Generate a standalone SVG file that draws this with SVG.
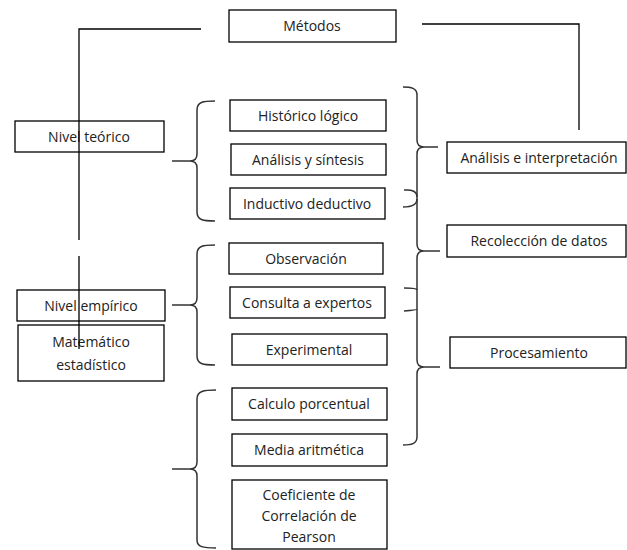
<svg xmlns="http://www.w3.org/2000/svg" width="627" height="550" viewBox="0 0 627 550">
<style>
.box{fill:#fff;stroke:#000;stroke-width:1.3}
.t{font-family:"Open Sans","Liberation Sans",sans-serif;font-size:14px;fill:#222;text-anchor:middle}
.ln{fill:none;stroke:#000;stroke-width:1.3}
.br{fill:none;stroke:#333;stroke-width:1.5}
</style>
<rect width="627" height="550" fill="#fff"/>
<g id="n-metodos"><rect class="box" x="229" y="10" width="167" height="32"/><text class="t" x="312" y="31">Métodos</text></g>
<g id="n-nivel-teorico"><rect class="box" x="15" y="121" width="149" height="31"/><text class="t" x="89" y="141.5">Nivel teórico</text></g>
<g id="n-historico"><rect class="box" x="230" y="100" width="156" height="31"/><text class="t" x="308" y="120.5">Histórico lógico</text></g>
<g id="n-analisis-sintesis"><rect class="box" x="231" y="144" width="155" height="31"/><text class="t" x="308" y="164.5">Análisis y síntesis</text></g>
<g id="n-inductivo"><rect class="box" x="230" y="188" width="155" height="31"/><text class="t" x="307" y="208.5">Inductivo deductivo</text></g>
<g id="n-observacion"><rect class="box" x="229" y="243" width="154" height="31"/><text class="t" x="306" y="263.5">Observación</text></g>
<g id="n-consulta"><rect class="box" x="230" y="287" width="155" height="31"/><text class="t" x="307" y="307.5">Consulta a expertos</text></g>
<g id="n-experimental"><rect class="box" x="232" y="334" width="155" height="31"/><text class="t" x="309" y="354.5">Experimental</text></g>
<g id="n-calculo"><rect class="box" x="232" y="388" width="155" height="32"/><text class="t" x="309" y="409">Calculo porcentual</text></g>
<g id="n-media"><rect class="box" x="232" y="434" width="155" height="32"/><text class="t" x="309" y="455">Media aritmética</text></g>
<g id="n-coeficiente"><rect class="box" x="232" y="480" width="155" height="69"/><text class="t" x="309" y="500">Coeficiente de</text><text class="t" x="309" y="521">Correlación de</text><text class="t" x="309" y="542">Pearson</text></g>
<g id="n-nivel-empirico"><rect class="box" x="17" y="290" width="148" height="31"/><text class="t" x="91" y="310.5">Nivel empírico</text></g>
<g id="n-matematico"><rect class="box" x="18" y="325" width="146" height="56"/><text class="t" x="91" y="347">Matemático</text><text class="t" x="91" y="370">estadístico</text></g>
<g id="n-analisis-interp"><rect class="box" x="447" y="142" width="179" height="31"/><text class="t" x="539" y="162.5">Análisis e interpretación</text></g>
<g id="n-recoleccion"><rect class="box" x="447" y="225" width="179" height="32"/><text class="t" x="539" y="246">Recolección de datos</text></g>
<g id="n-procesamiento"><rect class="box" x="450" y="337" width="176" height="31"/><text class="t" x="539" y="357.5">Procesamiento</text></g>
<g id="connectors">
<path class="ln" d="M201,29 H79 V240 M79,256 V349"/>
<path class="ln" d="M422,24 H579 V130"/>
<path class="br" d="M215,101 C203,101 197,102 197,110 V154 Q197,161 190,161 H172 M190,161 Q197,161 197,168 V212 C197,220 203,221 215,221"/>
<path class="br" d="M215,245 C203,245 197,246 197,254 V298 Q197,305 190,305 H172 M190,305 Q197,305 197,312 V356 C197,364 203,365 215,365"/>
<path class="br" d="M216,390 C204,390 197,391 197,399 V462 Q197,469 190,469 H172 M190,469 Q197,469 197,476 V540 C197,547 203,548 216,548"/>
<path class="br" d="M403,87 C411,87 417,88 417,95 V140 Q417,147 424,147 H438 M424,147 Q417,147 417,154 V244 Q417,251 424,251 H440 M424,251 Q417,251 417,258 V360 Q417,367 424,367 H440 M424,367 Q417,367 417,374 V437 C417,444 411,445 403,445"/>
<path class="br" d="M404,190 Q417,189 417,197 M403,207 Q417,207 417,199"/>
<path class="br" d="M404,288 Q417,288 417,290 M404,311 Q417,310 417,309"/>
</g>
</svg>
